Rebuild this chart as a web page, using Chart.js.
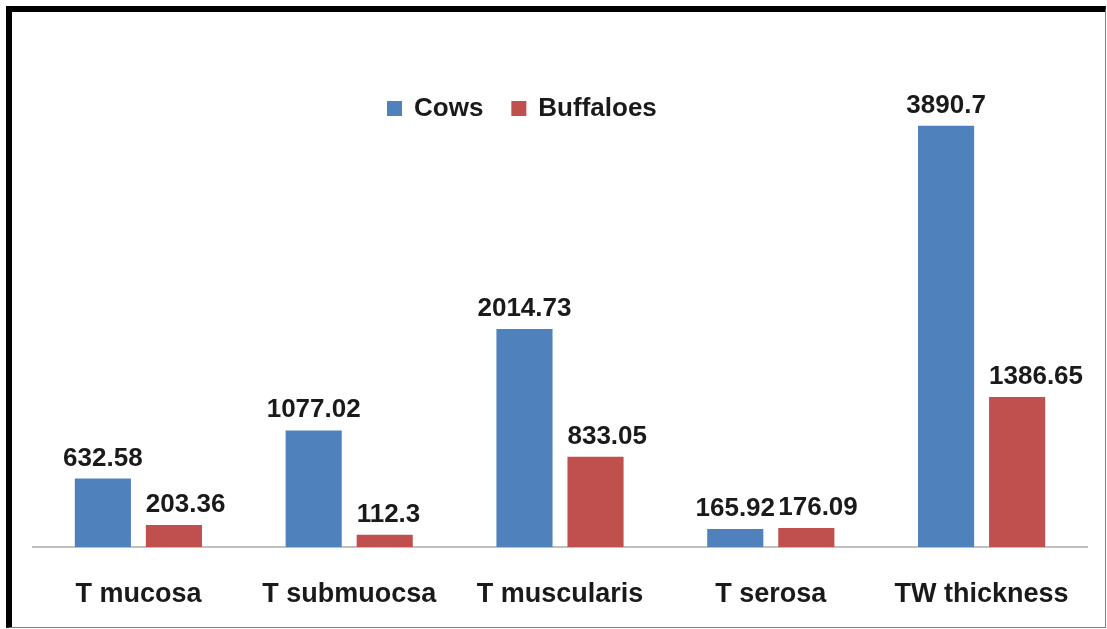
<!DOCTYPE html>
<html>
<head>
<meta charset="utf-8">
<script src="https://cdn.jsdelivr.net/npm/chart.js@4/dist/chart.umd.min.js"></script>
<style>
  html, body { margin: 0; padding: 0; background: #fff; }
  #frame {
    position: absolute; left: 6px; top: 6px;
    width: 1100px; height: 622px; box-sizing: border-box;
    border-left: 6px solid #000; border-top: 6px solid #000;
    border-right: 1px solid #808080; border-bottom: 1px solid #808080;
    overflow: hidden;
  }
  canvas { display: block; }
</style>
</head>
<body>
<div id="frame"><canvas id="thick" width="1093" height="615"></canvas></div>
<script>
const layers = ["T mucosa", "T submuocsa", "T muscularis", "T serosa", "TW thickness"];
const cows = [632.58, 1077.02, 2014.73, 165.92, 3890.7];
const buffaloes = [203.36, 112.3, 833.05, 176.09, 1386.65];

const FAMILY = "'Liberation Sans', Arial, sans-serif";
const INK = "#1a1a1a";

// value above every bar; labelAlign on the dataset picks centred or left-edge text
const valueLabels = {
  id: "valueLabels",
  afterDatasetsDraw(chart) {
    const ctx = chart.ctx;
    ctx.save();
    ctx.font = "bold 26px " + FAMILY;
    ctx.fillStyle = INK;
    ctx.textBaseline = "alphabetic";
    chart.data.datasets.forEach((ds, i) => {
      chart.getDatasetMeta(i).data.forEach((bar, j) => {
        const left = ds.labelAlign === "left";
        ctx.textAlign = left ? "left" : "center";
        const x = left ? bar.x - bar.width / 2 : bar.x;
        ctx.fillText(String(ds.data[j]), x, bar.y - 13);
      });
    });
    ctx.restore();
  }
};

// legend row sitting inside the plot, left of centre
const legendRow = {
  id: "legendRow",
  afterDraw(chart) {
    const ctx = chart.ctx;
    ctx.save();
    ctx.font = "bold 26px " + FAMILY;
    ctx.textBaseline = "middle";
    ctx.textAlign = "left";
    let x = 375;
    const y = 97;
    chart.data.datasets.forEach(ds => {
      ctx.fillStyle = ds.backgroundColor;
      ctx.fillRect(x, y - 8, 15, 15);
      ctx.fillStyle = INK;
      ctx.fillText(ds.label, x + 27, y);
      x += 27 + ctx.measureText(ds.label).width + 28;
    });
    ctx.restore();
  }
};

new Chart(document.getElementById("thick"), {
  type: "bar",
  data: {
    labels: layers,
    datasets: [
      { label: "Cows", data: cows, backgroundColor: "#4f81bd", labelAlign: "center" },
      { label: "Buffaloes", data: buffaloes, backgroundColor: "#c0504d", labelAlign: "left" }
    ]
  },
  options: {
    responsive: false,
    devicePixelRatio: 1,
    animation: false,
    barPercentage: 0.79,
    categoryPercentage: 0.674,
    layout: { padding: { left: 21, right: 18, top: 102, bottom: 0 } },
    plugins: { legend: { display: false }, tooltip: { enabled: false } },
    scales: {
      x: {
        grid: { display: false, drawTicks: false },
        border: { display: true, color: "#c0c0c0", width: 2 },
        ticks: {
          color: INK,
          padding: 31,
          font: { family: FAMILY, size: 27, weight: "bold" }
        },
        afterFit: (scale) => { scale.height = 80; }
      },
      y: {
        display: false,
        min: 0,
        max: 4000
      }
    }
  },
  plugins: [valueLabels, legendRow]
});
</script>
</body>
</html>
